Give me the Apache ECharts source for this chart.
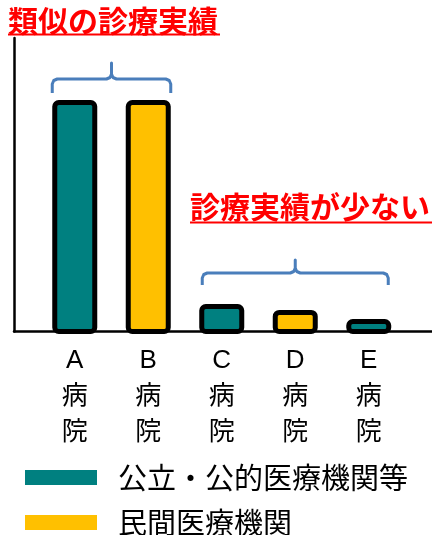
<!DOCTYPE html>
<html>
<head>
<meta charset="utf-8">
<script src="https://cdn.jsdelivr.net/npm/echarts@6/dist/echarts.min.js"></script>
<style>
  html, body { margin: 0; padding: 0; background: #fff; }
  #chart { width: 432px; height: 535px; }
</style>
</head>
<body>
<div id="chart"></div>
<script>
// categories (tick labels) and values (relative units, A = 100)
var categories = ['A\n病\n院', 'B\n病\n院', 'C\n病\n院', 'D\n病\n院', 'E\n病\n院']
var publicName = '公立・公的医療機関等'
var privateName = '民間医療機関'
var publicValues = [100, '-', 12.8, '-', 6.4]
var privateValues = ['-', 100, '-', 10.3, '-']
var titleTop = '類似の診療実績'
var titleLow = '診療実績が少ない'

var FONT = "'Liberation Sans', 'Noto Sans CJK JP', sans-serif"
var CJK = "'Noto Sans CJK JP', sans-serif"

var myChart = echarts.init(document.getElementById('chart'), null, { renderer: 'canvas' })

var option = {
  animation: false,
  backgroundColor: '#fff',
  title: [
    {
      text: titleTop,
      left: 8,
      top: 6,
      padding: 0,
      textStyle: { color: '#ff0000', fontFamily: CJK, fontWeight: 'bold', fontSize: 30, lineHeight: 30 }
    },
    {
      text: titleLow,
      left: 190,
      top: 192,
      padding: 0,
      textStyle: { color: '#ff0000', fontFamily: CJK, fontWeight: 'bold', fontSize: 30, lineHeight: 30 }
    }
  ],
  legend: {
    orient: 'vertical',
    left: 25,
    top: 463,
    height: 150,
    padding: 0,
    itemWidth: 72,
    itemHeight: 15,
    itemGap: 16,
    icon: 'rect',
    itemStyle: { borderWidth: 0 },
    data: [publicName, privateName],
    formatter: function (name) { return '{a|' + name + '}' },
    textStyle: {
      color: '#000',
      fontFamily: CJK,
      rich: { a: { fontSize: 29, lineHeight: 26, padding: [0, 0, 0, 16], fontFamily: CJK, color: '#000' } }
    }
  },
  grid: [
    { left: 38, width: 367.5, top: 38, bottom: 201 },
    { left: 14, right: 0, top: 38, bottom: 203.5 }
  ],
  xAxis: [
    {
      type: 'category',
      gridIndex: 0,
      data: categories,
      axisLine: { show: false },
      axisTick: { show: false },
      axisLabel: {
        color: '#000',
        fontFamily: FONT,
        fontSize: 26,
        lineHeight: 36,
        margin: 8.5,
        interval: 0
      }
    },
    {
      type: 'value',
      gridIndex: 1,
      min: 0,
      max: 1,
      axisLine: { show: true, lineStyle: { color: '#000', width: 2.5 } },
      axisTick: { show: false },
      axisLabel: { show: false },
      splitLine: { show: false }
    }
  ],
  yAxis: [
    {
      type: 'value',
      gridIndex: 0,
      min: 0,
      max: 126.5,
      show: false
    },
    {
      type: 'value',
      gridIndex: 1,
      min: 0,
      max: 1,
      axisLine: { show: true, lineStyle: { color: '#000', width: 2.5 } },
      axisTick: { show: false },
      axisLabel: { show: false },
      splitLine: { show: false }
    }
  ],
  series: [
    {
      name: publicName,
      type: 'bar',
      xAxisIndex: 0,
      yAxisIndex: 0,
      barWidth: 45,
      barGap: '-100%',
      data: publicValues,
      itemStyle: { color: '#008080', borderColor: '#000', borderWidth: 5, borderRadius: 4 }
    },
    {
      name: privateName,
      type: 'bar',
      xAxisIndex: 0,
      yAxisIndex: 0,
      barWidth: 45,
      barGap: '-100%',
      data: privateValues,
      itemStyle: { color: '#ffc000', borderColor: '#000', borderWidth: 5, borderRadius: 4 }
    }
  ]
}

myChart.setOption(option)

// curly braces over the groups, placed from the category axis
function bracePoints (L, R, H, B, T) {
  var r = 5
  var k = 1.5
  var M = (L + R) / 2
  return [
    [L, B], [L, H + r], [L + k, H + k], [L + r, H],
    [M - r, H], [M - k, H - k], [M, H - r], [M, T],
    [M, H - r], [M + k, H - k], [M + r, H],
    [R - r, H], [R - k, H + k], [R, H + r], [R, B]
  ]
}

function xOf (i) {
  return myChart.convertToPixel({ xAxisIndex: 0 }, categories[i])
}

var half = 22.5
var braceStyle = { stroke: '#4a7ebb', lineWidth: 3, fill: null, lineJoin: 'round' }

myChart.setOption({
  graphic: [
    {
      type: 'polyline',
      shape: { points: bracePoints(xOf(0) - half, xOf(1) + half, 79, 93, 63) },
      style: braceStyle
    },
    {
      type: 'polyline',
      shape: { points: bracePoints(xOf(2) - half + 3, xOf(4) + half - 3, 273, 285, 260) },
      style: braceStyle
    },
    {
      type: 'line',
      shape: { x1: 8, y1: 34.5, x2: 220, y2: 34.5 },
      style: { stroke: '#ff0000', lineWidth: 2 }
    },
    {
      type: 'line',
      shape: { x1: 190, y1: 222.5, x2: 432, y2: 222.5 },
      style: { stroke: '#ff0000', lineWidth: 2 }
    }
  ]
})
</script>
</body>
</html>
